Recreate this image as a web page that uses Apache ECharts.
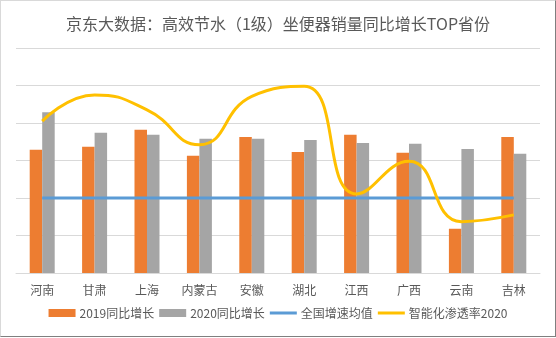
<!DOCTYPE html>
<html>
<head>
<meta charset="utf-8">
<script src="https://cdn.jsdelivr.net/npm/echarts@6/dist/echarts.min.js"></script>
<style>
  html, body { margin: 0; padding: 0; background: #fff; }
  #frame {
    position: absolute; left: 0; top: 0; width: 554px; height: 335px;
    border-left: 1px solid #d9d9d9; border-top: 1px solid #d9d9d9;
    border-right: 1px solid #7f7f7f; border-bottom: 1px solid #7f7f7f;
    box-sizing: content-box;
  }
  #chart { position: absolute; left: 0; top: 0; width: 556px; height: 338px; }
</style>
</head>
<body>
<div id="frame"></div>
<div id="chart"></div>
<script>
const provinces = ['河南', '甘肃', '上海', '内蒙古', '安徽', '湖北', '江西', '广西', '云南', '吉林'];
const growth2019 = [3.29, 3.37, 3.82, 3.13, 3.63, 3.23, 3.69, 3.21, 1.18, 3.63];
const growth2020 = [4.29, 3.74, 3.69, 3.58, 3.58, 3.55, 3.47, 3.45, 3.31, 3.18];
const nationalAvg = [2.0, 2.0, 2.0, 2.0, 2.0, 2.0, 2.0, 2.0, 2.0, 2.0];
const smartRate2020 = [4.05, 4.75, 4.35, 3.42, 4.71, 4.98, 2.11, 2.98, 1.37, 1.55];

const font = '"Noto Sans CJK SC", "Noto Sans", sans-serif';
const textGray = '#595959';
// thin horizontal stroke centred in the 27x8 legend box
const lineIcon = 'path://M0,0M27,8M0,2.5H27V5.5H0Z';

const chart = echarts.init(document.getElementById('chart'), null, { renderer: 'canvas' });
chart.setOption({
  animation: false,
  backgroundColor: 'transparent',
  title: {
    text: '京东大数据：高效节水（1级）坐便器销量同比增长TOP省份',
    left: 'center',
    top: 11,
    textStyle: { fontFamily: font, fontSize: 16, fontWeight: 'normal', color: textGray }
  },
  legend: {
    bottom: 14,
    left: 'center',
    itemGap: 5,
    itemWidth: 27,
    itemHeight: 8,
    textStyle: { fontFamily: font, fontSize: 12, color: textGray, padding: [0, 0, 0, -1] },
    data: [
      { name: '2019同比增长', icon: 'rect' },
      { name: '2020同比增长', icon: 'rect' },
      { name: '全国增速均值', icon: lineIcon },
      { name: '智能化渗透率2020', icon: lineIcon }
    ]
  },
  grid: { left: 16, right: 16, top: 48, bottom: 65, containLabel: false },
  xAxis: {
    type: 'category',
    data: provinces,
    axisLine: { lineStyle: { color: '#d9d9d9', width: 1 } },
    axisTick: { show: false },
    axisLabel: { fontFamily: font, fontSize: 12, color: textGray, margin: 11 }
  },
  yAxis: {
    type: 'value',
    min: 0, max: 6, interval: 1,
    axisLabel: { show: false },
    axisLine: { show: false },
    axisTick: { show: false },
    splitLine: { lineStyle: { color: '#d9d9d9', width: 1 } }
  },
  series: [
    {
      name: '2019同比增长', type: 'bar', data: growth2019,
      barWidth: 12.5, barGap: '0%',
      itemStyle: { color: '#ed7d31' }
    },
    {
      name: '2020同比增长', type: 'bar', data: growth2020,
      barWidth: 12.5, barGap: '0%',
      itemStyle: { color: '#a5a5a5' }
    },
    {
      name: '全国增速均值', type: 'line', data: nationalAvg,
      symbol: 'none',
      lineStyle: { color: '#5b9bd5', width: 3 },
      itemStyle: { color: '#5b9bd5' }
    },
    {
      name: '智能化渗透率2020', type: 'line', data: smartRate2020,
      symbol: 'none', smooth: 0.5,
      lineStyle: { color: '#ffc000', width: 3 },
      itemStyle: { color: '#ffc000' }
    }
  ]
});
</script>
</body>
</html>
